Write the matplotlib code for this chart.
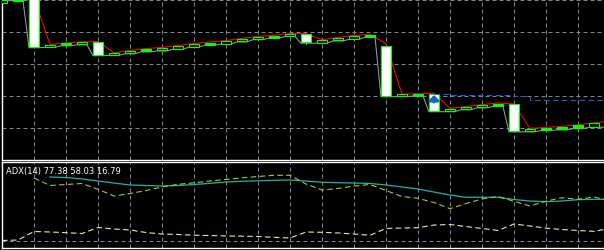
import numpy as np
import matplotlib
matplotlib.use('Agg')
import matplotlib.pyplot as plt
from matplotlib.patches import Rectangle

# bar index 0 sits on the left border, one bar = 16 px
opens = [1.31392, 1.31397, 1.31420, 1.31252, 1.31258, 1.31262, 1.31268, 1.31227,
         1.31233, 1.31240, 1.31243, 1.31248, 1.31254, 1.31260, 1.31263, 1.31271,
         1.31277, 1.31282, 1.31288, 1.31294, 1.31267, 1.31274, 1.31279, 1.31285,
         1.31255, 1.31099, 1.31101, 1.31105, 1.31052, 1.31058, 1.31065, 1.31069,
         1.31074, 1.30990, 1.30994, 1.30996, 1.31000, 1.31003]
closes = [1.31399, 1.31404, 1.31252, 1.31258, 1.31265, 1.31269, 1.31227, 1.31235,
          1.31241, 1.31247, 1.31250, 1.31256, 1.31263, 1.31267, 1.31271, 1.31278,
          1.31284, 1.31288, 1.31294, 1.31268, 1.31274, 1.31281, 1.31288, 1.31292,
          1.31099, 1.31105, 1.31105, 1.31052, 1.31059, 1.31066, 1.31072, 1.31076,
          1.30990, 1.30998, 1.31000, 1.31003, 1.31008, 1.31015]
solid_bars = [1, 4, 9, 13, 17, 23, 26, 31, 34, 35, 36]
wick_bars = [19]
wick_lows = [1.31262]

# red / gray lines over the candles (one value per bar, last one is off screen)
high_line = [1.31405, 1.31410, 1.31407, 1.31261, 1.31266, 1.31269, 1.31270, 1.31235,
             1.31242, 1.31248, 1.31252, 1.31258, 1.31264, 1.31269, 1.31273, 1.31280,
             1.31286, 1.31290, 1.31295, 1.31295, 1.31276, 1.31283, 1.31289, 1.31293,
             1.31263, 1.31106, 1.31107, 1.31109, 1.31061, 1.31067, 1.31073, 1.31078,
             1.31075, 1.30999, 1.31002, 1.31005, 1.31010, 1.31016, 1.31022]
low_line = [1.31398, 1.31398, 1.31251, 1.31252, 1.31257, 1.31260, 1.31226, 1.31227,
            1.31232, 1.31238, 1.31241, 1.31246, 1.31253, 1.31259, 1.31262, 1.31269,
            1.31276, 1.31281, 1.31286, 1.31265, 1.31265, 1.31272, 1.31277, 1.31284,
            1.31098, 1.31098, 1.31100, 1.31051, 1.31051, 1.31057, 1.31063, 1.31067,
            1.30988, 1.30988, 1.30992, 1.30994, 1.30998, 1.31002, 1.31003]

# blue dashed level and buy arrow
stop_start = 27
stop_line = [1.31105, 1.31104, 1.31104, 1.31103, 1.31102, 1.31101,
             1.31088, 1.31088, 1.31088, 1.31087, 1.31087, 1.31086]
arrow_bar = 27
arrow_tip = 1.31103
arrow_tail = 1.31081

# ADX sub window
adx_start = 3
adx = [85.3, 84.7, 82.7, 80.0, 77.3, 74.7, 74.0, 73.3, 74.0, 75.3, 76.9, 78.7,
       79.6, 80.3, 80.9, 81.3, 80.0, 78.3, 77.7, 77.3, 76.7, 74.7, 72.0, 69.3,
       65.3, 61.3, 58.3, 58.3, 58.3, 55.3, 53.3, 52.4, 53.3, 55.1, 55.6, 55.6]
plus_start = 2
plus_di = [84.0, 74.0, 75.3, 76.7, 68.9, 60.0, 63.3, 67.3, 72.0, 75.6, 77.6, 80.0,
           82.1, 84.3, 86.0, 87.6, 87.6, 76.0, 68.0, 70.0, 73.3, 75.3, 67.3, 59.3,
           56.9, 51.3, 43.1, 50.0, 56.0, 59.3, 52.9, 46.7, 53.1, 57.7, 55.6, 58.7, 53.3]
minus_di = [0.7, 1.3, 12.7, 12.0, 11.1, 10.0, 18.0, 16.0, 14.7, 11.3, 9.3, 8.7,
            7.7, 7.3, 6.7, 6.4, 6.0, 4.9, 4.0, 12.0, 11.6, 10.7, 9.3, 7.6,
            16.7, 17.3, 17.7, 21.3, 22.0, 19.3, 16.7, 14.0, 22.7, 20.0, 17.1, 15.3,
            14.0, 12.9, 16.7]
adx_label = 'ADX(14) 77.38 58.03 16.79'

price_grid = [1.3100, 1.3110, 1.3120, 1.3130, 1.3140]
time_grid = list(range(2, 37, 2))

grid_col = '#778899'
green = '#00ff00'

W, H = 604, 250
fig = plt.figure(figsize=(W / 100, H / 100), dpi=100, facecolor='black')
ax = fig.add_axes([2 / W, 1 - 160.3 / H, (W - 2) / W, 160.8 / H], facecolor='black')
ax2 = fig.add_axes([2 / W, 1 - 247.7 / H, (W - 2) / W, 85.4 / H], facecolor='black')

for a in (ax, ax2):
    a.set_xlim(0, (W - 2) / 16)
    a.set_xticks(time_grid)
    a.tick_params(length=0, labelleft=False, labelbottom=False)
    a.grid(True, color=grid_col, lw=0.72, linestyle=(0, (4, 3)))
    a.set_axisbelow(True)
    for s in a.spines.values():
        s.set_color('white')
        s.set_linewidth(1.0)
    a.spines['right'].set_visible(False)
ax.spines['top'].set_visible(False)

ax.set_ylim(1.314 - 160.3 * 0.00003125, 1.314 + 0.5 * 0.00003125)
ax.set_yticks(price_grid)

# lines
n = len(high_line)
ax.plot(np.arange(n), high_line, color='red', lw=0.8, zorder=2)
gx, gy = [], []
for i, v in enumerate(low_line):
    gx += [i - 5 / 16, i + 5 / 16]
    gy += [v, v]
ax.plot(gx, gy, color='#8895a5', lw=0.8, zorder=2)

# candles
bw = 0.6
for i, (o, c) in enumerate(zip(opens, closes)):
    lo, hi = min(o, c), max(o, c)
    if c < o:
        fc = 'white'
    elif i in solid_bars:
        fc = green
    else:
        fc = 'black'
    ax.add_patch(Rectangle((i - bw / 2, lo), bw, hi - lo, facecolor=fc,
                           edgecolor=green, lw=0.8, zorder=3))
for b, lw_ in zip(wick_bars, wick_lows):
    ax.plot([b, b], [lw_, min(opens[b], closes[b])], color=green, lw=0.8, zorder=3)

ax.plot(np.arange(stop_start, stop_start + len(stop_line)), stop_line,
        color='#1464c8', lw=0.8, linestyle=(0, (5, 3)), drawstyle='steps-post', zorder=4)
ax.annotate('', xy=(arrow_bar, arrow_tip), xytext=(arrow_bar, arrow_tail),
            arrowprops=dict(arrowstyle='-|>,head_width=0.3,head_length=0.3',
                            color='#1464c8', lw=2.0, shrinkA=0, shrinkB=0), zorder=5)

# ADX window
ax2.set_ylim((241 - 247.7) / 0.75, (241 - 162.3) / 0.75)
ax2.set_yticks([0])
ax2.plot(np.arange(adx_start, adx_start + len(adx)), adx, color='#20b2aa', lw=0.9)
ax2.plot(np.arange(plus_start, plus_start + len(plus_di)), plus_di, color='#9acd32',
         lw=0.8, linestyle=(0, (5, 3)))
ax2.plot(np.arange(len(minus_di)), minus_di, color='#f5deb3', lw=0.8,
         linestyle=(0, (5, 3)))
ax2.text(4 / (W - 2), 0.94, adx_label, transform=ax2.transAxes, color='white',
         fontsize=6.0, va='top', ha='left', family='DejaVu Sans')

fig.savefig('out.png', dpi=100, facecolor='black')
